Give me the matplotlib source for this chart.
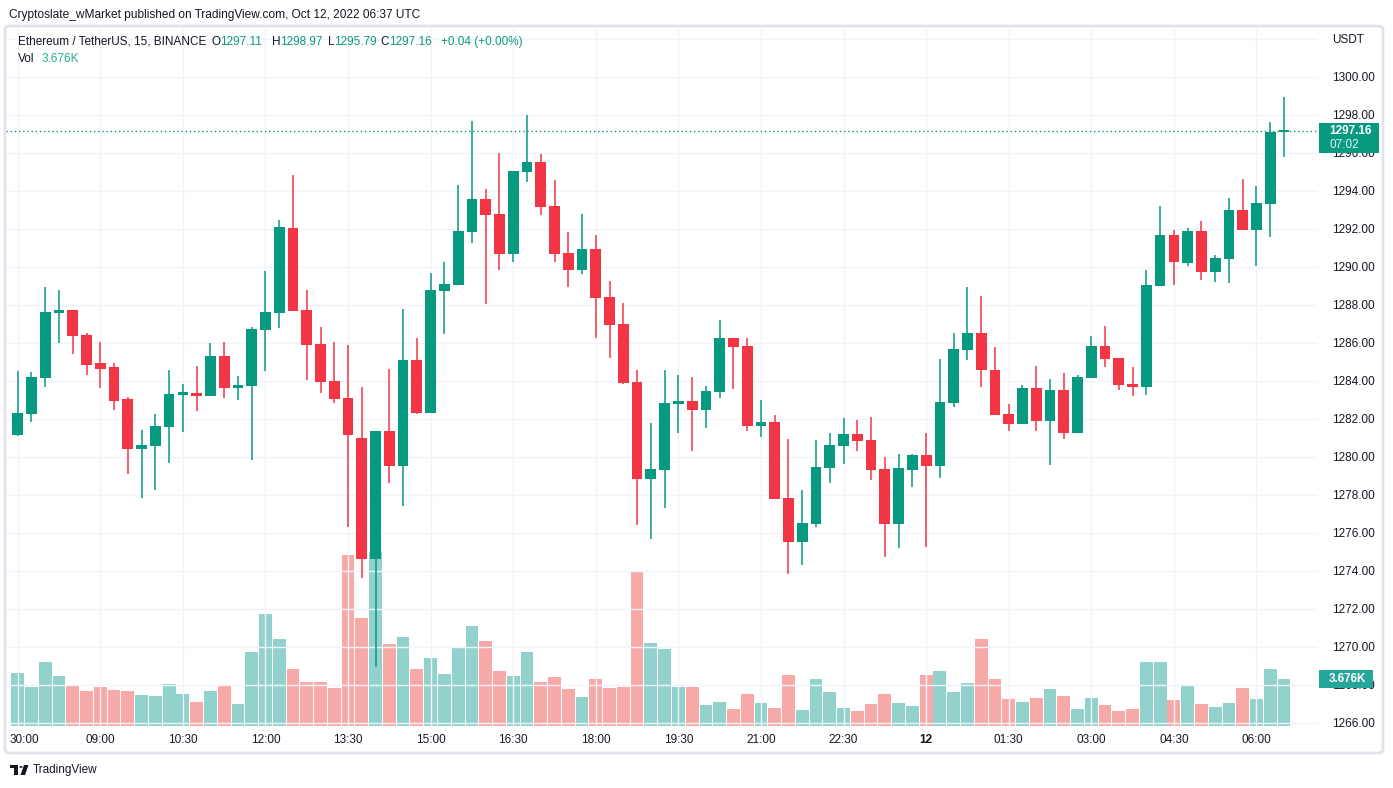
import matplotlib
matplotlib.use("Agg")
import matplotlib.pyplot as plt
import matplotlib.transforms as mtransforms
from matplotlib.patches import Rectangle, FancyBboxPatch
import numpy as np

# canvas size in pixels
W = 1393
H = 788

# 15 minute candles, ETH/USDT (Binance), 07:30 -> 06:30
opens = [1281.17, 1282.28, 1284.17, 1287.60, 1287.74, 1286.42, 1284.95, 1284.74, 1283.05, 1280.44,
         1280.59, 1281.60, 1283.28, 1283.37, 1283.23, 1285.32, 1283.65, 1283.75, 1286.70, 1287.60,
         1292.05, 1287.74, 1285.95, 1284.00, 1283.11, 1281.00, 1274.65, 1281.37, 1279.54, 1285.11,
         1282.33, 1288.75, 1289.07, 1291.86, 1293.58, 1292.79, 1290.70, 1295.02, 1295.53, 1293.21,
         1290.74, 1289.86, 1290.95, 1288.42, 1287.00, 1283.95, 1278.86, 1279.33, 1282.81, 1282.95,
         1282.49, 1283.44, 1286.26, 1285.84, 1281.65, 1281.84, 1277.84, 1275.54, 1276.49, 1279.44,
         1280.59, 1281.21, 1280.89, 1279.37, 1276.47, 1279.32, 1280.11, 1279.54, 1282.86, 1285.63,
         1286.53, 1284.58, 1282.26, 1281.75, 1283.63, 1281.91, 1283.53, 1281.28, 1284.17, 1285.84,
         1285.21, 1283.84, 1283.70, 1289.00, 1291.68, 1290.23, 1291.89, 1289.75, 1290.44, 1293.00,
         1291.96, 1293.33, 1297.11]
highs = [1284.53, 1284.47, 1288.95, 1288.79, 1287.76, 1286.53, 1286.05, 1284.95, 1283.16, 1281.42,
         1282.26, 1284.58, 1283.84, 1284.79, 1286.00, 1286.05, 1284.26, 1286.84, 1289.79, 1292.47,
         1294.84, 1288.79, 1286.84, 1286.05, 1285.89, 1283.68, 1281.37, 1284.65, 1287.79, 1286.26,
         1289.68, 1290.26, 1294.32, 1297.68, 1294.11, 1296.00, 1295.05, 1298.00, 1295.95, 1294.58,
         1291.84, 1292.79, 1291.68, 1289.26, 1288.11, 1284.58, 1281.79, 1284.58, 1284.32, 1284.21,
         1283.74, 1287.21, 1286.26, 1286.26, 1283.00, 1282.21, 1280.95, 1278.26, 1280.89, 1281.26,
         1282.05, 1281.95, 1282.12, 1279.98, 1280.16, 1280.16, 1281.26, 1285.16, 1286.53, 1288.95,
         1288.47, 1285.79, 1282.81, 1283.79, 1284.79, 1284.11, 1284.42, 1284.32, 1286.37, 1286.89,
         1285.22, 1284.74, 1289.84, 1293.21, 1291.95, 1292.05, 1292.42, 1290.65, 1293.63, 1294.63,
         1294.26, 1297.63, 1298.97]
lows = [1281.10, 1281.86, 1283.70, 1286.02, 1285.44, 1284.33, 1283.65, 1282.49, 1279.12, 1277.86,
        1278.28, 1279.70, 1281.33, 1282.44, 1283.20, 1283.12, 1283.02, 1279.86, 1284.54, 1286.81,
        1287.70, 1284.07, 1283.38, 1282.86, 1276.33, 1273.65, 1268.95, 1278.65, 1277.44, 1282.28,
        1282.30, 1286.49, 1289.05, 1291.28, 1288.07, 1289.86, 1290.28, 1294.49, 1292.75, 1290.28,
        1288.96, 1289.65, 1286.28, 1285.23, 1283.86, 1276.44, 1275.70, 1277.33, 1281.28, 1280.33,
        1281.54, 1283.12, 1283.59, 1281.38, 1281.07, 1277.80, 1273.86, 1274.33, 1276.33, 1278.65,
        1279.65, 1280.33, 1278.79, 1274.75, 1275.23, 1278.40, 1275.28, 1278.91, 1282.65, 1285.11,
        1283.70, 1282.20, 1281.38, 1281.72, 1281.38, 1279.60, 1280.96, 1281.25, 1284.15, 1284.75,
        1283.54, 1283.23, 1283.28, 1288.98, 1289.05, 1290.07, 1289.33, 1289.23, 1289.18, 1291.94,
        1290.07, 1291.60, 1295.79]
closes = [1282.32, 1284.21, 1287.63, 1287.74, 1286.38, 1284.86, 1284.65, 1282.96, 1280.44, 1280.63,
          1281.63, 1283.32, 1283.37, 1283.23, 1285.32, 1283.65, 1283.79, 1286.74, 1287.63, 1292.11,
          1287.70, 1285.91, 1283.96, 1283.07, 1281.18, 1274.65, 1281.37, 1279.54, 1285.11, 1282.33,
          1288.79, 1289.11, 1291.89, 1293.58, 1292.75, 1290.70, 1295.05, 1295.53, 1293.17, 1290.70,
          1289.86, 1290.95, 1288.39, 1286.96, 1283.91, 1278.86, 1279.37, 1282.84, 1282.95, 1282.49,
          1283.47, 1286.26, 1285.81, 1281.65, 1281.84, 1277.81, 1275.54, 1276.53, 1279.47, 1280.63,
          1281.21, 1280.86, 1279.32, 1276.47, 1279.42, 1280.11, 1279.54, 1282.89, 1285.68, 1286.53,
          1284.60, 1282.23, 1281.75, 1283.63, 1281.91, 1283.53, 1281.28, 1284.21, 1285.84, 1285.17,
          1283.81, 1283.70, 1289.05, 1291.68, 1290.28, 1291.89, 1289.75, 1290.47, 1293.00, 1291.96,
          1293.37, 1297.11, 1297.16]
# volume in thousands of ETH
volumes = [4.14, 3.05, 5.00, 3.91, 3.13, 2.74, 3.05, 2.82, 2.74, 2.42,
           2.35, 3.28, 2.50, 1.88, 2.74, 3.13, 1.72, 5.79, 8.76, 6.80,
           4.46, 3.44, 3.44, 2.97, 13.37, 8.45, 13.61, 6.41, 6.96, 4.46,
           5.32, 4.07, 6.18, 7.82, 6.65, 4.30, 3.91, 5.79, 3.44, 3.83,
           2.89, 2.27, 3.68, 2.97, 3.05, 12.04, 6.49, 6.02, 3.05, 3.05,
           1.64, 1.88, 1.33, 2.50, 1.80, 1.41, 3.99, 1.25, 3.68, 2.66,
           1.41, 1.17, 1.72, 2.50, 1.80, 1.56, 3.99, 4.30, 2.66, 3.36,
           6.80, 3.68, 2.11, 1.88, 2.19, 2.89, 2.35, 1.33, 2.19, 1.64,
           1.17, 1.33, 5.00, 5.00, 2.03, 3.21, 1.72, 1.49, 1.80, 2.97,
           2.11, 4.46, 3.676]

time_idx = [6, 12, 18, 24, 30, 36, 42, 48, 54, 60, 66, 72, 78, 84, 90]
time_labels = ["09:00", "10:30", "12:00", "13:30", "15:00", "16:30", "18:00", "19:30",
               "21:00", "22:30", "12", "01:30", "03:00", "04:30", "06:00"]
price_ticks = list(range(1266, 1303, 2))

GREEN = "#089981"
RED = "#F23645"
VOL_GREEN = "#92D2CC"
VOL_RED = "#F7A9A7"
GRID = "#F0F3FA"
TEXT = "#131722"

plt.rcParams['font.family'] = ['Liberation Sans', 'DejaVu Sans']


def fx(px):
    return px / W


def fy(py):
    return 1 - py / H


fig = plt.figure(figsize=(W / 100, H / 100), dpi=100)
fig.patch.set_facecolor("white")

# outer frame of the chart widget
frame = FancyBboxPatch((fx(5), fy(753)), fx(1383) - fx(5), fy(26) - fy(753),
                       boxstyle="round,pad=0,rounding_size=0.004", transform=fig.transFigure,
                       fc="none", ec="#E0E3EB", lw=2)
fig.patches.append(frame)

ax = fig.add_axes([fx(6), fy(726), fx(1318) - fx(6), fy(27) - fy(726)])
vax = ax.twinx()
ax.set_zorder(vax.get_zorder() + 1)
ax.patch.set_visible(False)

n = len(opens)
x = np.arange(n)

# volume bars
vcols = [VOL_GREEN if c >= o else VOL_RED for o, c in zip(opens, closes)]
vax.bar(x, volumes, width=0.93, color=vcols, linewidth=0)
vax.set_ylim(0, 54.7)
vax.set_yticks([])
for s in vax.spines.values():
    s.set_visible(False)

# grid
for p in price_ticks:
    ax.axhline(p, color=GRID, lw=1, zorder=0)
for i in [0] + time_idx:
    ax.axvline(i, color=GRID, lw=1, zorder=0)

# candles
for i in range(n):
    col = GREEN if closes[i] >= opens[i] else RED
    ax.vlines(i, lows[i], highs[i], color=col, lw=1.1, zorder=3)
    lo = min(opens[i], closes[i])
    hgt = max(abs(closes[i] - opens[i]), 0.12)
    ax.add_patch(Rectangle((i - 0.39, lo), 0.78, hgt, fc=col, ec="none", zorder=4))

ax.set_xlim(-0.85, 94.47)
ax.set_ylim(1265.84, 1302.63)

# last price line
last = closes[-1]
ax.axhline(last, color=GREEN, lw=1, ls=(0, (1, 2)), zorder=2)

# axes look
for s in ax.spines.values():
    s.set_visible(False)
ax.yaxis.tick_right()
ax.set_yticks(price_ticks)
ax.set_yticklabels(["%.2f" % p for p in price_ticks[:-1]] + ["USDT"])
ax.tick_params(axis="y", length=0, pad=10, labelsize=8.5, labelcolor=TEXT)
ax.yaxis.get_majorticklabels()[-1].set_y(1302.2)
ax.set_xticks([0.46] + time_idx)
ax.set_xticklabels(["30:00"] + time_labels)
ax.tick_params(axis="x", length=0, pad=6, labelsize=8.5, labelcolor=TEXT)
for lab in ax.get_xticklabels():
    if lab.get_text() == "12":
        lab.set_fontweight("bold")

# price label on the axis, drawn over the tick labels
ytr = ax.get_yaxis_transform()
ax.add_patch(Rectangle((1.001, last - 1.16), 0.0455, 1.58, transform=ytr, fc=GREEN,
                       ec="none", clip_on=False, zorder=6))
ax.text(1.0085, last + 0.02, "%.2f" % last, transform=ytr, color="white", fontsize=8.5,
        fontweight="bold", va="center", ha="left", zorder=7)
ax.text(1.0085, last - 0.72, "07:02", transform=ytr, color="#E6F4F1", fontsize=8.5,
        va="center", ha="left", zorder=7)

# volume label on the axis (on ax so it hides the 1268 label like the original)
vtr = mtransforms.blended_transform_factory(ax.transAxes, vax.transData)
ax.add_patch(Rectangle((1.001, volumes[-1] - 0.68), 0.041, 1.36, transform=vtr, fc="#26A69A",
                       ec="none", clip_on=False, zorder=6))
ax.text(1.0085, volumes[-1], "3.676K", transform=vtr, color="white", fontsize=8.5,
        fontweight="bold", va="center", ha="left", zorder=7)

# header texts
fig.text(fx(9), fy(15), "Cryptoslate_wMarket published on TradingView.com, Oct 12, 2022 06:37 UTC",
         fontsize=8.6, color=TEXT, va="center")
hy = fy(42)
fig.text(fx(18), hy, "Ethereum / TetherUS, 15, BINANCE", fontsize=8.5, color=TEXT, va="center")
parts = [(211, "O", TEXT), (220, "1297.11", GREEN), (272, "H", TEXT), (280, "1298.97", GREEN),
         (328, "L", TEXT), (334, "1295.79", GREEN), (380, "C", TEXT), (389, "1297.16", GREEN),
         (441, "+0.04 (+0.00%)", GREEN)]
for px, t, c in parts:
    fig.text(fx(px), hy, t, fontsize=8.5, color=c, va="center")
fig.text(fx(18), fy(59), "Vol", fontsize=8.5, color=TEXT, va="center")
fig.text(fx(42), fy(59), "3.676K", fontsize=8.5, color="#22AB94", va="center")

# footer logo
fig.patches.append(Rectangle((fx(10), fy(768)), fx(8) - fx(0), fy(765) - fy(768),
                             transform=fig.transFigure, fc=TEXT, ec="none"))
fig.patches.append(Rectangle((fx(14), fy(775)), fx(4) - fx(0), fy(768) - fy(775),
                             transform=fig.transFigure, fc=TEXT, ec="none"))
fig.patches.append(plt.Circle((fx(21), fy(767)), 1.6 / W, transform=fig.transFigure, fc=TEXT))
fig.patches.append(plt.Polygon([(fx(24), fy(765)), (fx(28.5), fy(765)), (fx(25), fy(775)),
                                (fx(20.5), fy(775))], closed=True, transform=fig.transFigure,
                               fc=TEXT, ec="none"))
fig.text(fx(33), fy(770), "TradingView", fontsize=8.5, color=TEXT, va="center")

fig.savefig("out.png", dpi=100, facecolor="white")
